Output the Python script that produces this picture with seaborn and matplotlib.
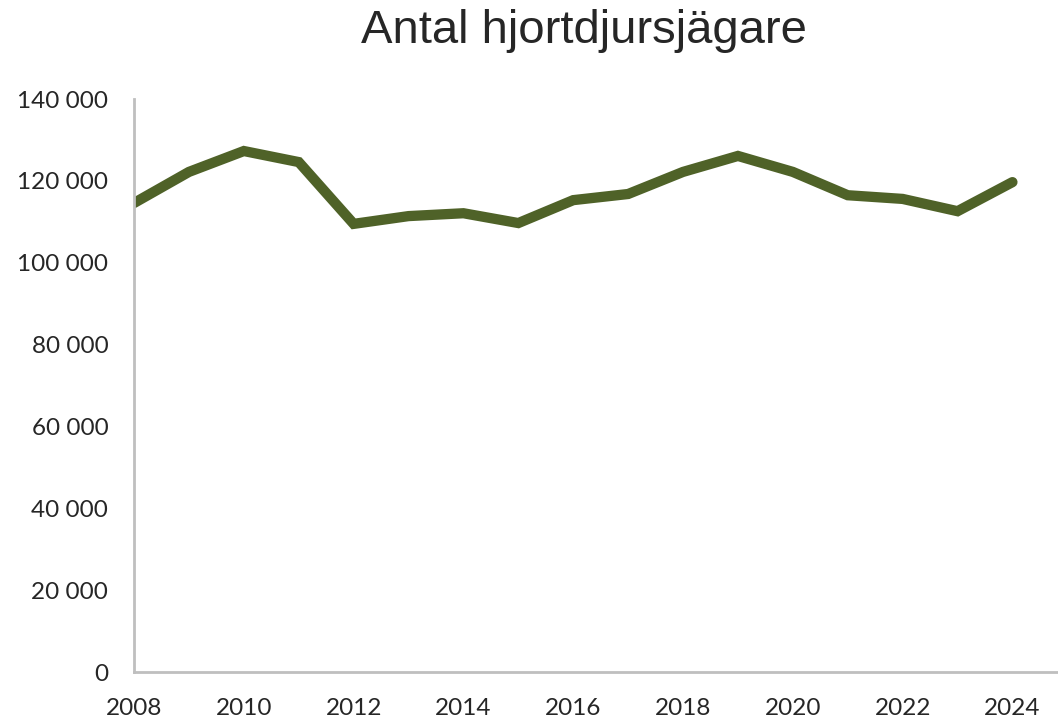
import matplotlib
matplotlib.use("Agg")
import matplotlib.pyplot as plt
import seaborn as sns
import pandas as pd
from matplotlib.ticker import FuncFormatter

years = [2008, 2009, 2010, 2011, 2012, 2013, 2014, 2015, 2016,
         2017, 2018, 2019, 2020, 2021, 2022, 2023, 2024]
hunters = [114600, 122200, 127300, 124600, 109500, 111400, 112100, 109700, 115300,
           116800, 122200, 126100, 122200, 116500, 115600, 112600, 119700]
title = "Antal hjortdjursjägare"

df = pd.DataFrame({"year": years, "hunters": hunters})

sns.set_theme(style="white")
plt.rcParams['font.family'] = ['Lato', 'DejaVu Sans']

fig = plt.figure(figsize=(10.58, 7.23), dpi=100)
ax = fig.add_axes([0.1267, 0.0705, 0.8733, 0.7925])

sns.lineplot(data=df, x="year", y="hunters", ax=ax, color="#4f6228",
             linewidth=7.4, solid_capstyle="round", solid_joinstyle="miter")

ax.set_xlim(2008, 2024.83)
ax.set_ylim(0, 140000)
ax.set_xticks(list(range(2008, 2025, 2)))
ax.set_yticks(list(range(0, 140001, 20000)))
ax.yaxis.set_major_formatter(FuncFormatter(lambda v, p: f"{int(v):,}".replace(",", " ")))
ax.set_xlabel("")
ax.set_ylabel("")
ax.tick_params(axis="both", length=0, labelsize=17.5, colors="#262626")
ax.tick_params(axis="y", pad=18.5)
ax.tick_params(axis="x", pad=19)

for s in ["top", "right"]:
    ax.spines[s].set_visible(False)
for s in ["left", "bottom"]:
    ax.spines[s].set_color("#bfbfbf")
    ax.spines[s].set_linewidth(2)

fig.text(0.552, 0.957, title, ha="center", va="center", fontsize=34,
         family=["Liberation Sans", "DejaVu Sans"], color="#262626")

fig.savefig("out.png", dpi=100, facecolor="white")
